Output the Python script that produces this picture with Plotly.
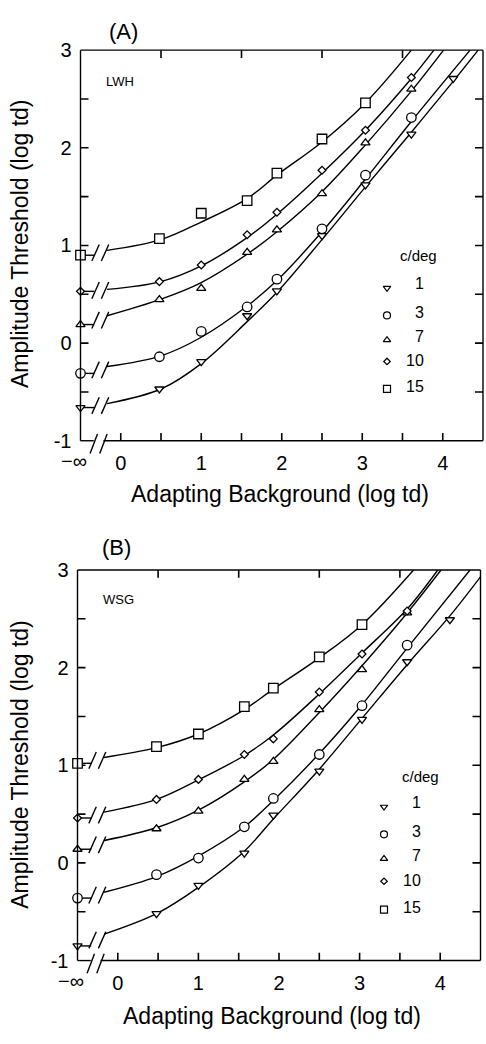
import plotly.graph_objects as go

W, H = 486, 1044
FONT = "Liberation Sans, Arial, Helvetica, sans-serif"

# ---------------- data ----------------
SF_LABELS = ["1", "3", "7", "10", "15"]          # c/deg
NEG_INF = -0.5                                   # plotting position of "-inf" background
X_TICKS = [0, 1, 2, 3, 4]
Y_TICKS = [-1, 0, 1, 2, 3]

# Panel A (LWH): measured thresholds
A_BG = [NEG_INF, 0.48, 1.0, 1.57, 1.94, 2.5, 3.04, 3.61, 4.13]
A_SF1 = [-0.66, -0.47, -0.19, 0.28, 0.535, 1.10, 1.62, 2.14, 2.71]
A_SF3 = [-0.31, -0.14, 0.12, 0.37, 0.655, 1.17, 1.72, 2.31]
A_SF7 = [0.19, 0.445, 0.56, 0.93, 1.16, 1.53, 2.05, 2.60]
A_SF10 = [0.53, 0.63, 0.80, 1.11, 1.34, 1.77, 2.18, 2.72]
A_SF15 = [0.90, 1.07, 1.33, 1.46, 1.74, 2.09, 2.46]

# Panel A fitted curves
A_FIT1_X = [-0.17, 0.5, 1.0, 1.57, 1.94, 2.5, 3.04, 3.61, 4.13, 4.44]
A_FIT1_Y = [-0.62, -0.47, -0.21, 0.22, 0.52, 1.06, 1.60, 2.16, 2.68, 3.0]
A_FIT3_X = [-0.17, 0.5, 1.0, 1.57, 1.94, 2.5, 3.04, 3.61, 4.34]
A_FIT3_Y = [-0.24, -0.13, 0.06, 0.38, 0.64, 1.14, 1.68, 2.27, 3.0]
A_FIT7_X = [-0.17, 0.5, 1.0, 1.57, 1.94, 2.5, 3.04, 3.61, 4.01]
A_FIT7_Y = [0.28, 0.45, 0.62, 0.91, 1.14, 1.55, 2.03, 2.58, 3.0]
A_FIT10_X = [-0.17, 0.5, 1.0, 1.57, 1.94, 2.5, 3.04, 3.61, 3.89]
A_FIT10_Y = [0.55, 0.63, 0.79, 1.08, 1.32, 1.74, 2.18, 2.71, 3.0]
A_FIT15_X = [-0.17, 0.5, 1.0, 1.57, 1.94, 2.5, 3.04, 3.61]
A_FIT15_Y = [0.95, 1.06, 1.24, 1.48, 1.72, 2.06, 2.46, 3.0]

# Panel B (WSG): measured thresholds
B_BG = [NEG_INF, 0.48, 1.0, 1.57, 1.93, 2.5, 3.03, 3.59, 4.12]
B_SF1 = [-0.85, -0.52, -0.23, 0.10, 0.49, 0.94, 1.47, 2.06, 2.49]
B_SF3 = [-0.36, -0.12, 0.05, 0.37, 0.66, 1.11, 1.61, 2.23]
B_SF7 = [0.14, 0.35, 0.53, 0.855, 1.04, 1.57, 1.98, 2.56]
B_SF10 = [0.46, 0.65, 0.855, 1.11, 1.27, 1.75, 2.14, 2.58]
B_SF15 = [1.02, 1.19, 1.32, 1.60, 1.79, 2.11, 2.44]

# Panel B fitted curves
B_FIT1_X = [-0.17, 0.48, 1.0, 1.57, 1.93, 2.5, 3.03, 3.59, 4.12, 4.5]
B_FIT1_Y = [-0.73, -0.52, -0.25, 0.12, 0.45, 0.96, 1.48, 2.03, 2.53, 2.93]
B_FIT3_X = [-0.17, 0.48, 1.0, 1.57, 1.93, 2.5, 3.03, 3.59, 4.37]
B_FIT3_Y = [-0.30, -0.14, 0.07, 0.37, 0.64, 1.12, 1.62, 2.20, 3.0]
B_FIT7_X = [-0.17, 0.48, 1.0, 1.57, 1.93, 2.5, 3.03, 3.59, 4.01]
B_FIT7_Y = [0.23, 0.36, 0.54, 0.83, 1.06, 1.54, 2.02, 2.56, 3.0]
B_FIT10_X = [-0.17, 0.48, 1.0, 1.57, 1.93, 2.5, 3.03, 3.59, 3.97]
B_FIT10_Y = [0.52, 0.65, 0.85, 1.10, 1.31, 1.73, 2.15, 2.60, 3.0]
B_FIT15_X = [-0.17, 0.48, 1.0, 1.57, 1.93, 2.5, 3.03, 3.67]
B_FIT15_Y = [1.08, 1.18, 1.32, 1.57, 1.78, 2.10, 2.44, 3.0]

# ---------------- styling / layout ----------------
SYMBOLS = {"1": "triangle-down", "3": "circle", "7": "triangle-up",
           "10": "diamond", "15": "square"}
SIZES = {"1": 8, "3": 9.5, "7": 8, "10": 6, "15": 9.5}
LEG_SIZES = {"1": 6.5, "3": 7, "7": 6.5, "10": 5, "15": 7}

XR = [-0.5, 4.5]
YR = [-1, 3]
TICKLEN = 8
BOTTOM_TICKS = [0, 0.5, 1, 1.5, 2, 2.5, 3, 3.5, 4]
TOP_TICKS = [0.5, 1.5, 2.5, 3.5]
SIDE_TICKS = [-0.5, 0, 0.5, 1, 1.5, 2, 2.5]

PANELS = [
    dict(tag="(A)", subj="LWH", xa="x", ya="y", left=80.5, right=483, top=40, bottom=439,
         bg=A_BG, obs=[A_SF1, A_SF3, A_SF7, A_SF10, A_SF15],
         fits=[(A_FIT1_X, A_FIT1_Y), (A_FIT3_X, A_FIT3_Y), (A_FIT7_X, A_FIT7_Y),
               (A_FIT10_X, A_FIT10_Y), (A_FIT15_X, A_FIT15_Y)],
         tag_xy=(123, 21), subj_xy=(120, 72), cdeg_xy=(418, 250),
         leg_mx=387, leg_tx=426, leg_my=[283, 311, 336, 358, 386], leg_ty=[278, 308, 332, 357, 384],
         xtitle_xy=(280, 493), ytitle_xy=(20, 238)),
    dict(tag="(B)", subj="WSG", xa="x2", ya="y2", left=77.5, right=480.5, top=571, bottom=970,
         bg=B_BG, obs=[B_SF1, B_SF3, B_SF7, B_SF10, B_SF15],
         fits=[(B_FIT1_X, B_FIT1_Y), (B_FIT3_X, B_FIT3_Y), (B_FIT7_X, B_FIT7_Y),
               (B_FIT10_X, B_FIT10_Y), (B_FIT15_X, B_FIT15_Y)],
         tag_xy=(116, 548), subj_xy=(118, 601), cdeg_xy=(420, 782),
         leg_mx=384, leg_tx=423, leg_my=[813, 841, 866, 889, 918], leg_ty=[809, 838, 863, 888, 916],
         xtitle_xy=(272, 1027), ytitle_xy=(20, 770)),
]


def fx(x):
    return (x - XR[0]) / (XR[1] - XR[0])


def fy(y):
    return (y - YR[0]) / (YR[1] - YR[0])


fig = go.Figure()
shapes = []
annotations = []
LINE = dict(color="black", width=1.4)

for i, p in enumerate(PANELS):
    xa, ya = p["xa"], p["ya"]
    xd = xa + " domain"
    yd = ya + " domain"
    pw = p["right"] - p["left"]
    ph = p["bottom"] - p["top"]
    dx_tick = TICKLEN / pw * (XR[1] - XR[0])
    dy_tick = TICKLEN / ph * (YR[1] - YR[0])

    def px2data_x(pxv, p=p):
        return XR[0] + (pxv - p["left"]) / (p["right"] - p["left"]) * (XR[1] - XR[0])

    def py2data_y(pyv, p=p):
        return YR[1] - (pyv - p["top"]) / (p["bottom"] - p["top"]) * (YR[1] - YR[0])

    # inward tick marks on all four sides, drawn as one line trace
    tx_, ty_ = [], []
    for t in BOTTOM_TICKS:
        tx_ += [t, t, None]
        ty_ += [YR[0], YR[0] + dy_tick, None]
    for t in TOP_TICKS:
        tx_ += [t, t, None]
        ty_ += [YR[1], YR[1] - dy_tick, None]
    for t in SIDE_TICKS:
        tx_ += [XR[0], XR[0] + dx_tick, None, XR[1], XR[1] - dx_tick, None]
        ty_ += [t, t, None, t, t, None]
    fig.add_trace(go.Scatter(x=tx_, y=ty_, mode="lines", line=dict(color="black", width=1.6),
                             xaxis=xa, yaxis=ya, showlegend=False, hoverinfo="skip"))

    for k, lab in enumerate(SF_LABELS):
        fxs, fys = p["fits"][k]
        fig.add_trace(go.Scatter(x=fxs, y=fys, mode="lines",
                                 line=dict(color="black", width=1.4, shape="spline", smoothing=1.0),
                                 xaxis=xa, yaxis=ya, showlegend=False, hoverinfo="skip"))
    for k, lab in enumerate(SF_LABELS):
        fxs, fys = p["fits"][k]
        ys = p["obs"][k]
        fig.add_trace(go.Scatter(x=p["bg"][:len(ys)], y=ys, mode="markers", cliponaxis=False,
                                 marker=dict(symbol=SYMBOLS[lab], size=SIZES[lab], color="white",
                                             line=dict(color="black", width=1.3)),
                                 xaxis=xa, yaxis=ya, showlegend=False, name=lab + " c/deg"))
        # break marks on each curve: stub from -inf marker, then "//"
        y0 = ys[0]
        y1 = fys[0]
        shapes.append(dict(type="line", xref=xd, yref=yd, x0=fx(NEG_INF), x1=fx(-0.33),
                           y0=fy(y0), y1=fy(y0), line=LINE, layer="below"))
        cy = (y0 + y1) / 2
        for cx in (-0.313, -0.195):
            shapes.append(dict(type="line", xref=xd, yref=yd, x0=fx(cx - 0.046), x1=fx(cx + 0.046),
                               y0=fy(cy - 0.085), y1=fy(cy + 0.085), line=LINE))

    # legend
    for k, lab in enumerate(SF_LABELS):
        fig.add_trace(go.Scatter(x=[px2data_x(p["leg_mx"])], y=[py2data_y(p["leg_my"][k])], mode="markers",
                                 cliponaxis=False,
                                 marker=dict(symbol=SYMBOLS[lab], size=LEG_SIZES[lab], color="white",
                                             line=dict(color="black", width=1.2)),
                                 xaxis=xa, yaxis=ya, showlegend=False, hoverinfo="skip"))
        annotations.append(dict(x=p["leg_tx"] / W, y=1 - p["leg_ty"][k] / H, xref="paper", yref="paper",
                                text=lab, showarrow=False, xanchor="right", yanchor="middle",
                                font=dict(family=FONT, size=16, color="black")))
    annotations.append(dict(x=p["cdeg_xy"][0] / W, y=1 - p["cdeg_xy"][1] / H, xref="paper", yref="paper",
                            text="c/deg", showarrow=False, xanchor="center", yanchor="middle",
                            font=dict(family=FONT, size=15, color="black")))

    # box: left, top, right full; bottom broken
    shapes += [
        dict(type="line", xref=xd, yref=yd, x0=0, x1=0, y0=0, y1=1, line=LINE),
        dict(type="line", xref=xd, yref=yd, x0=0, x1=1, y0=1, y1=1, line=LINE),
        dict(type="line", xref=xd, yref=yd, x0=1, x1=1, y0=0, y1=1, line=LINE),
        dict(type="line", xref=xd, yref=yd, x0=0, x1=fx(-0.335), y0=0, y1=0, line=LINE),
        dict(type="line", xref=xd, yref=yd, x0=fx(-0.215), x1=1, y0=0, y1=0, line=LINE),
    ]
    for cx in (-0.335, -0.215):
        shapes.append(dict(type="line", xref=xd, yref=yd, x0=fx(cx - 0.046), x1=fx(cx + 0.046),
                           y0=fy(-1.03 - 0.1), y1=fy(-1.03 + 0.1), line=LINE))

    # texts
    annotations.append(dict(x=p["tag_xy"][0] / W, y=1 - p["tag_xy"][1] / H, xref="paper", yref="paper",
                            text=p["tag"], showarrow=False, xanchor="center", yanchor="middle",
                            font=dict(family=FONT, size=22, color="black")))
    annotations.append(dict(x=p["subj_xy"][0] / W, y=1 - p["subj_xy"][1] / H, xref="paper", yref="paper",
                            text=p["subj"], showarrow=False, xanchor="center", yanchor="middle",
                            font=dict(family=FONT, size=13, color="black")))
    annotations.append(dict(x=p["xtitle_xy"][0] / W, y=1 - p["xtitle_xy"][1] / H, xref="paper", yref="paper",
                            text="Adapting Background (log td)", showarrow=False, xanchor="center",
                            yanchor="middle", font=dict(family=FONT, size=23, color="black")))
    annotations.append(dict(x=p["ytitle_xy"][0] / W, y=1 - p["ytitle_xy"][1] / H, xref="paper", yref="paper",
                            text="Amplitude Threshold (log td)", showarrow=False, textangle=-90,
                            xanchor="center", yanchor="middle", font=dict(family=FONT, size=23, color="black")))
    annotations.append(dict(x=(p["left"] - 7) / W, y=1 - (p["bottom"] + 21) / H, xref="paper", yref="paper",
                            text="\u2212\u221e", showarrow=False, xanchor="center", yanchor="middle",
                            font=dict(family=FONT, size=20, color="black")))

    axis_common = dict(showgrid=False, zeroline=False, showline=False, ticks="",
                       tickfont=dict(family=FONT, size=20, color="black"))
    xkey = "xaxis" if xa == "x" else "xaxis" + xa[1:]
    ykey = "yaxis" if ya == "y" else "yaxis" + ya[1:]
    fig.update_layout(**{
        xkey: dict(domain=[p["left"] / W, p["right"] / W], range=XR, anchor=ya,
                   tickvals=X_TICKS, ticktext=[str(v) for v in X_TICKS],
                   ticklabelstandoff=8, **axis_common),
        ykey: dict(domain=[1 - p["bottom"] / H, 1 - p["top"] / H], range=YR, anchor=xa,
                   tickvals=Y_TICKS, ticktext=[str(v) for v in Y_TICKS],
                   ticklabelstandoff=8, **axis_common),
    })

fig.update_layout(width=W, height=H, margin=dict(l=0, r=0, t=0, b=0),
                  paper_bgcolor="white", plot_bgcolor="white", showlegend=False,
                  shapes=shapes, annotations=annotations)
fig.write_html("out.html")
